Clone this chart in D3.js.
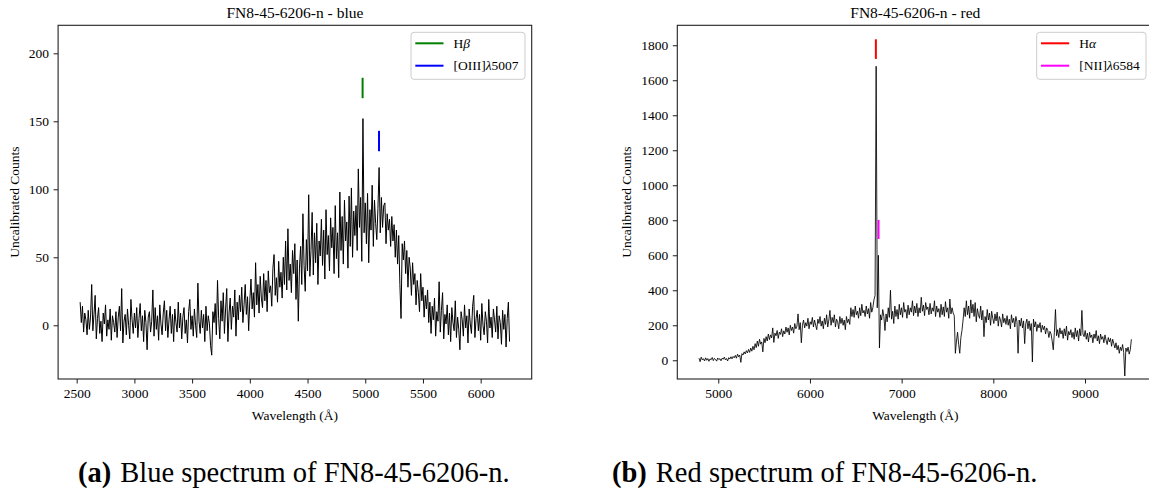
<!DOCTYPE html>
<html>
<head>
<meta charset="utf-8">
<script src="https://cdn.jsdelivr.net/npm/d3@7"></script>
<style>
  body { margin: 0; background: #fff; }
  svg { display: block; }
  text { font-family: "Liberation Serif", "Times New Roman", serif; fill: #000; }
</style>
</head>
<body>
<svg id="fig" width="1149" height="496"></svg>
<script>
// ---- blue arm: counts every 10 A from 2530 A
const blueStart = 2530, blueStep = 10;
const blueCounts = [
  17, 2, 14, -5, 9, 4, -7, 11, -3, 6,
  30, -4, 8, 22, -10, 5, 13, -6, 3, -12,
  9, 1, 15, -8, 4, -3, 12, -11, 7, 2,
  -5, 10, -9, 6, 14, -4, 27, -13, 3, 8,
  -7, 12, 0, -10, 19, 4, -6, 9, -2, 13,
  -9, 5, 16, -4, 7, -12, 11, 2, -18, 6,
  10, -5, 3, 26, -8, 13, -3, 7, -11, 15,
  1, -7, 9, 18, -4, 11, -9, 4, 14, -6,
  8, -12, 12, 2, -5, 17, -2, 9, -10, 6,
  13, -6, 4, -13, 10, 19, -3, 7, -8, 12,
  0, -9, 31, 3, -6, 11, -2, 8, -12, 14,
  -4, 7, 1, -15, -22, 10, 2, 16, -7, 33,
  5, -10, 18, 3, 24, -6, 12, 27, -12, 9,
  20, -3, 14, 6, 26, -8, 17, 4, 22, 10,
  28, 2, 15, 30, 8, 21, -4, 18, 34, 12,
  24, 6, 46, 15, 30, 9, 36, 20, 13, 38,
  18, 33, 10, 40, 24, 29, 14, 42, 52, 22,
  35, 17, 47, 28, 39, 20, 50, 30, 62, 26,
  71, 33, 45, 24, 55, 38, 60, 19, 48, 3,
  42, 58, 30, 82, 44, 25, 63, 40, 96, 36,
  55, 83, 37, 68, 46, 75, 30, 62, 51, 78,
  44, 70, 34, 85, 52, 66, 40, 79, 57, 72,
  38, 88, 49, 68, 35, 98, 55, 80, 45, 92,
  62, 76, 42, 95, 58, 101, 50, 84, 66, 88,
  55, 115, 72, 94, 47, 152, 68, 90, 60, 97,
  46, 85, 70, 103, 58, 92, 75, 63, 86, 116,
  68, 94, 72, 88, 90, 60, 82, 70, 78, 58,
  80, 62, 74, 50, 70, 45, 66, 30, 5, 60,
  48, 62, 38, 55, 28, 50, 42, 22, 46, 30,
  38, 15, 33, 24, 10, 38, 18, 28, 6, 22,
  12, 26, 2, 17, -6, 14, 4, 20, -8, 10,
  3, 32, -5, 11, 24, -10, 8, 1, 15, -7,
  9, -12, 13, 2, -4, 18, -9, 6, -3, -18,
  10, 4, -8, 15, -2, 7, -13, 12, 1, -6,
  14, 22, -9, 5, 11, -4, 8, -11, 16, 0,
  -7, 10, 3, -13, 19, -2, 6, -9, 12, 4,
  -5, 14, -10, 7, 2, -14, 11, -3, 8, -16,
  5, 17, -12
];
const blueXTicks = [2500, 3000, 3500, 4000, 4500, 5000, 5500, 6000];
const blueYTicks = [0, 50, 100, 150, 200];
const blueLineNames = ["Hβ", "[OIII]λ5007"];
const blueLineWaves = [4977, 5119];
const blueLineLow = [167, 128];
const blueLineHigh = [182, 143];
const blueLineColors = ["#008000", "#0000ff"];

// ---- red arm: counts every 12 A from 4790 A
const redStart = 4790, redStep = 12;
const redCounts = [
  12, -8, 18, 2, 9, -4, 14, 0, 10, -6,
  8, 3, 16, -2, 11, 5, -5, 13, 4, 9,
  -3, 12, 6, 18, 2, 10, -4, 15, 7, 20,
  8, 22, 14, 28, 12, 35, 20, 30, -12, 38,
  30, 48, 36, 55, 42, 62, 45, 70, 52, 80,
  60, 95, 72, 110, 80, 120, 92, 105, 48, 125,
  100, 135, 110, 150, 118, 145, 128, 185, 102, 155,
  140, 170, 125, 160, 148, 180, 135, 168, 150, 190,
  160, 185, 145, 200, 170, 190, 155, 210, 180, 195,
  265, 175, 215, 100, 200, 230, 185, 215, 195, 240,
  180, 220, 205, 245, 190, 230, 200, 175, 235, 210,
  250, 195, 225, 180, 240, 205, 260, 190, 230, 285,
  200, 245, 215, 260, 190, 235, 220, 180, 250, 210,
  240, 200, 230, 175, 250, 215, 235, 205, 300, 250,
  290, 245, 310, 260, 280, 240, 300, 255, 320, 270,
  285, 250, 310, 265, 295, 240, 330, 275, 300, 345,
  370, 1680, 300, 600, 70, 260, 230, 290, 250, 170,
  265, 220, 300, 245, 400, 235, 280, 210, 310, 250,
  290, 235, 320, 260, 300, 245, 330, 275, 290, 240,
  315, 260, 300, 275, 340, 255, 310, 270, 325, 250,
  300, 270, 360, 280, 315, 255, 330, 290, 305, 260,
  325, 265, 300, 280, 340, 250, 310, 275, 295, 245,
  320, 260, 305, 250, 335, 275, 300, 240, 350, 265,
  300, 270, 255, 40, 110, 160, 90, 40, 130, 170,
  230, 300, 250, 340, 260, 310, 240, 345, 270, 320,
  250, 330, 220, 295, 260, 240, 310, 230, 285, 135,
  250, 215, 290, 230, 270, 200, 280, 240, 210, 265,
  225, 275, 195, 250, 230, 190, 265, 215, 240, 205,
  255, 200, 235, 180, 260, 215, 240, 190, 250, 220,
  40, 230, 195, 240, 185, 225, 95, 210, 235, 180,
  225, 170, 210, -10, 235, 190, 220, 165, 205, 185,
  215, 160, 200, 175, 195, 150, 185, 170, 130, 165,
  150, 110, 60, 160, 290, 140, 175, 130, 185, 150,
  170, 125, 180, 140, 195, 115, 165, 145, 175, 130,
  160, 120, 185, 135, 170, 110, 180, 140, 285, 150,
  135, 170, 120, 155, 105, 160, 130, 145, 100, 150,
  125, 170, 110, 140, 95, 150, 120, 135, 100, 145,
  115, 90, 130, 105, 125, 80, 120, 95, 70, 100,
  60, 85, 40, 75, 55, 90, 45, -90, 70, 50,
  75, 35, 60, 120
];
const redXTicks = [5000, 6000, 7000, 8000, 9000];
const redYTicks = [0, 200, 400, 600, 800, 1000, 1200, 1400, 1600, 1800];
const redLineNames = ["Hα", "[NII]λ6584"];
const redLineWaves = [6719, 6748];
const redLineLow = [1722, 693];
const redLineHigh = [1834, 802];
const redLineColors = ["#ff0000", "#ff00ff"];

const captionTags = ["(a)", "(b)"];
const captionTexts = ["Blue spectrum of FN8-45-6206-n.", "Red spectrum of FN8-45-6206-n."];

const svg = d3.select("#fig");
const plotTop = 25.3, plotBottom = 379;

// write a label, Greek letters in italic like the TeX math
function richText(sel, str) {
  str.split(/([α-ω])/).filter(s => s.length).forEach(s => {
    const t = sel.append("tspan").text(s);
    if (/[α-ω]/.test(s)) t.attr("font-style", "italic");
  });
}

function panel(o) {
  const x = d3.scaleLinear(o.xDomain, [o.left, o.right]);
  const y = d3.scaleLinear(o.yDomain, [plotBottom, plotTop]);
  const g = svg.append("g");

  g.append("clipPath").attr("id", "clip-" + o.id)
    .append("rect")
    .attr("x", o.left).attr("y", plotTop)
    .attr("width", o.right - o.left).attr("height", plotBottom - plotTop);

  const line = d3.line()
    .x((d, i) => x(o.start + i * o.step))
    .y(d => y(d));

  g.append("path")
    .datum(o.counts)
    .attr("clip-path", `url(#clip-${o.id})`)
    .attr("fill", "none")
    .attr("stroke", "#000")
    .attr("stroke-width", o.lw)
    .attr("stroke-linejoin", "round")
    .attr("d", line);

  // emission line markers
  g.append("g").selectAll("line")
    .data(o.names)
    .join("line")
      .attr("x1", (d, i) => x(o.waves[i]))
      .attr("x2", (d, i) => x(o.waves[i]))
      .attr("y1", (d, i) => y(o.low[i]))
      .attr("y2", (d, i) => y(o.high[i]))
      .attr("stroke", (d, i) => o.colors[i])
      .attr("stroke-width", 2);

  const xa = g.append("g")
    .attr("transform", `translate(0,${plotBottom})`)
    .call(d3.axisBottom(x).tickValues(o.xTicks).tickSize(4.5).tickPadding(4.5).tickFormat(d3.format("d")));
  const ya = g.append("g")
    .attr("transform", `translate(${o.left},0)`)
    .call(d3.axisLeft(y).tickValues(o.yTicks).tickSize(4.5).tickPadding(4.5).tickFormat(d3.format("d")));
  [xa, ya].forEach(a => {
    a.attr("font-family", null).attr("font-size", 13.5);
    a.select(".domain").remove();
    a.selectAll(".tick line").attr("stroke", "#000").attr("stroke-width", 0.9);
  });

  // spines
  g.append("rect")
    .attr("x", o.left).attr("y", plotTop)
    .attr("width", o.right - o.left).attr("height", plotBottom - plotTop)
    .attr("fill", "none").attr("stroke", "#222").attr("stroke-width", 1.1);

  g.append("text")
    .attr("x", (o.left + o.right) / 2).attr("y", 18)
    .attr("text-anchor", "middle").attr("font-size", 15.5)
    .text(o.title);

  g.append("text")
    .attr("x", (o.left + o.right) / 2).attr("y", 420)
    .attr("text-anchor", "middle").attr("font-size", 13.5)
    .text("Wavelength (Å)");

  g.append("text")
    .attr("transform", `translate(${o.ylabX},${(plotTop + plotBottom) / 2}) rotate(-90)`)
    .attr("text-anchor", "middle").attr("font-size", 13.5)
    .text("Uncalibrated Counts");

  // legend
  const leg = g.append("g");
  leg.append("rect")
    .attr("x", o.legX).attr("y", 32.3)
    .attr("width", o.legW).attr("height", 47)
    .attr("rx", 3)
    .attr("fill", "#fff").attr("fill-opacity", 0.8)
    .attr("stroke", "#ccc").attr("stroke-width", 1);
  o.names.forEach((name, i) => {
    const ly = 43.3 + i * 22.4;
    leg.append("line")
      .attr("x1", o.legX + 4.3).attr("x2", o.legX + 32.5)
      .attr("y1", ly).attr("y2", ly)
      .attr("stroke", o.colors[i]).attr("stroke-width", 2);
    const t = leg.append("text")
      .attr("x", o.legX + 42.5).attr("y", ly + 4.6)
      .attr("font-size", 13.5);
    richText(t, name);
  });
}

panel({
  id: "blue", title: "FN8-45-6206-n - blue",
  left: 58.1, right: 531.7, xDomain: [2339, 6442], yDomain: [-39.5, 220.6],
  start: blueStart, step: blueStep, counts: blueCounts, lw: 1,
  xTicks: blueXTicks, yTicks: blueYTicks,
  names: blueLineNames, waves: blueLineWaves, low: blueLineLow, high: blueLineHigh, colors: blueLineColors,
  ylabX: 19, legX: 411, legW: 114
});

panel({
  id: "red", title: "FN8-45-6206-n - red",
  left: 677.3, right: 1153.3, xDomain: [4553, 9745], yDomain: [-107, 1914],
  start: redStart, step: redStep, counts: redCounts, lw: 0.85,
  xTicks: redXTicks, yTicks: redYTicks,
  names: redLineNames, waves: redLineWaves, low: redLineLow, high: redLineHigh, colors: redLineColors,
  ylabX: 631, legX: 1036.7, legW: 109.3
});

// sub-figure captions
const captionX = [78, 612];
captionTags.forEach((tag, i) => {
  const t = svg.append("text").attr("x", captionX[i]).attr("y", 482).attr("font-size", 28.5);
  t.append("tspan").attr("font-weight", "bold").text(tag);
  t.append("tspan").attr("dx", 9).text(captionTexts[i]);
});
</script>
</body>
</html>
